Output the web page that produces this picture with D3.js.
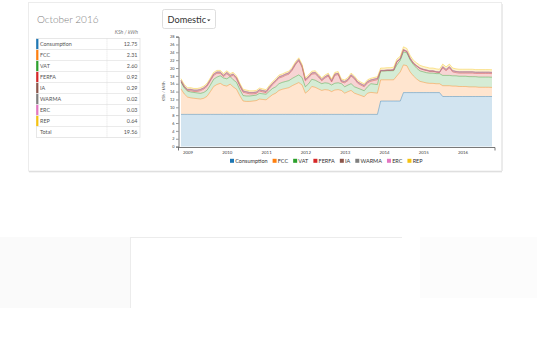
<!DOCTYPE html>
<html><head><meta charset="utf-8">
<script src="https://cdn.jsdelivr.net/npm/d3@7"></script>
<style>
html,body{margin:0;padding:0;background:#fff;}
svg{display:block;font-family:Lato,"Open Sans",sans-serif;}
</style></head><body>
<svg id="c" width="537" height="360"></svg>
<script>
// ---------------- data ----------------
const titleText = "October 2016";
const tariffLabel = "Domestic";
const unitLabel = "KSh / kWh";
const seriesNames = ["Consumption","FCC","VAT","FERFA","IA","WARMA","ERC","REP"];
const seriesColors = ["#1f77b4","#ff7f0e","#2ca02c","#d62728","#8c564b","#7f7f7f","#e377c2","#f5c211"];
const yearTicks = [2009,2010,2011,2012,2013,2014,2015,2016];
const yTicks = [0,2,4,6,8,10,12,14,16,18,20,22,24,26,28];
const firstMonth = [2008,10]; // Nov 2008 (month index 0-based)
const lastMonth = [2016,9];   // Oct 2016

const consumption = [
8.2,8.2,8.2,8.2,8.2,8.2,8.2,8.2,8.2,8.2,
8.2,8.2,8.2,8.2,8.2,8.2,8.2,8.2,8.2,8.2,
8.2,8.2,8.2,8.2,8.2,8.2,8.2,8.2,8.2,8.2,
8.2,8.2,8.2,8.2,8.2,8.2,8.2,8.2,8.2,8.2,
8.2,8.2,8.2,8.2,8.2,8.2,8.2,8.2,8.2,8.2,
8.2,8.2,8.2,8.2,8.2,8.2,8.2,8.2,8.2,8.2,8.2,
11.6,11.6,11.6,11.6,11.6,11.6,11.6,
13.75,13.75,13.75,13.75,13.75,13.75,13.75,13.75,13.75,13.75,13.75,13.75,
12.75,12.75,12.75,12.75,12.75,12.75,12.75,12.75,12.75,12.75,12.75,12.75,12.75,12.75,12.75,12.75];
const fcc = [
6.5,5.2,4.4,4.2,4.1,4.0,3.9,4.1,4.6,5.8,
7.1,7.6,7.9,7.4,7.2,7.7,7.0,6.4,4.8,3.4,
3.3,3.3,3.4,3.5,3.9,3.8,3.7,4.4,5.0,5.4,
6.1,6.4,6.6,6.8,7.3,7.7,8.1,7.5,5.4,6.1,
7.1,6.9,6.5,6.1,6.3,6.2,5.8,6.2,6.3,6.1,
5.4,5.8,6.1,5.4,5.1,4.8,4.5,5.4,5.6,5.5,5.4,
5.4,5.4,5.4,5.4,5.4,6.4,7.4,
7.05,6.85,5.25,4.25,3.45,2.85,2.65,2.45,2.35,2.35,2.25,2.25,
2.75,2.75,2.75,2.65,2.65,2.55,2.55,2.55,2.45,2.45,2.45,2.35,2.35,2.35,2.35,2.31];
const vat = [
1.76,1.61,1.51,1.49,1.48,1.46,1.45,1.48,1.54,1.68,
1.84,1.90,1.93,1.87,1.85,1.91,1.82,1.75,1.56,1.39,
1.38,1.38,1.39,1.40,1.45,1.44,1.43,1.51,1.58,1.63,
1.72,1.75,1.78,1.80,1.86,1.91,1.96,1.88,1.63,1.72,
1.84,1.81,1.76,1.72,1.74,1.73,1.68,1.73,1.74,1.72,
1.63,1.68,1.72,1.63,1.60,1.56,1.52,1.63,2.21,2.19,2.18,
2.27,2.27,2.30,2.30,2.32,2.80,2.95,
3.30,3.28,3.03,2.88,2.76,2.67,2.64,2.61,2.60,2.60,2.58,2.58,
2.62,2.62,2.62,2.62,2.62,2.61,2.61,2.61,2.61,2.61,2.60,2.60,2.60,2.60,2.60,2.60];
const ferfa = [
0.08,0.05,0.13,0.35,0.26,0.38,0.69,0.86,1.00,1.06,
1.00,0.94,0.61,0.37,1.29,0.03,1.12,0.89,0.88,0.85,
0.76,0.56,0.45,0.44,0.59,0.50,0.41,0.73,0.96,1.31,
1.42,1.39,1.56,1.64,2.08,3.03,3.58,2.66,1.51,1.52,
1.30,1.63,1.28,0.72,1.20,1.81,0.76,2.01,2.10,0.42,
1.01,1.16,1.92,2.01,1.24,1.08,1.02,1.01,0.63,0.95,1.26,
0.00,0.00,0.07,0.07,0.15,0.77,0.32,
0.46,0.28,0.33,0.28,0.50,0.59,0.52,0.55,0.46,0.46,0.38,0.28,
1.90,1.20,1.90,1.00,0.80,0.81,0.81,0.81,0.91,0.91,0.82,0.92,0.92,0.92,0.92,0.92];
const ia = [
0.30,0.30,0.30,0.30,0.30,0.30,0.30,0.30,0.30,0.30,
0.30,0.30,0.30,0.30,0.30,0.30,0.30,0.30,0.30,0.30,
0.30,0.30,0.30,0.30,0.30,0.30,0.30,0.30,0.30,0.30,
0.30,0.30,0.30,0.30,0.30,0.30,0.30,0.30,0.30,0.30,
0.30,0.30,0.30,0.30,0.30,0.30,0.30,0.30,0.30,0.30,
0.30,0.30,0.30,0.30,0.30,0.30,0.30,0.30,0.30,0.30,0.30,
0.10,0.10,0.10,0.10,0.10,0.10,0.10,
0.10,0.10,0.10,0.10,0.10,0.10,0.10,0.10,0.10,0.10,0.10,0.10,
0.29,0.29,0.29,0.29,0.29,0.29,0.29,0.29,0.29,0.29,0.29,0.29,0.29,0.29,0.29,0.29];
const warma = [
0.02,0.02,0.02,0.02,0.02,0.02,0.02,0.02,0.02,0.02,
0.02,0.02,0.02,0.02,0.02,0.02,0.02,0.02,0.02,0.02,
0.02,0.02,0.02,0.02,0.02,0.02,0.02,0.02,0.02,0.02,
0.02,0.02,0.02,0.02,0.02,0.02,0.02,0.02,0.02,0.02,
0.02,0.02,0.02,0.02,0.02,0.02,0.02,0.02,0.02,0.02,
0.02,0.02,0.02,0.02,0.02,0.02,0.02,0.02,0.02,0.02,0.02,
0.02,0.02,0.02,0.02,0.02,0.02,0.02,
0.02,0.02,0.02,0.02,0.02,0.02,0.02,0.02,0.02,0.02,0.02,0.02,
0.02,0.02,0.02,0.02,0.02,0.02,0.02,0.02,0.02,0.02,0.02,0.02,0.02,0.02,0.02,0.02];
const erc = [
0.03,0.03,0.03,0.03,0.03,0.03,0.03,0.03,0.03,0.03,
0.03,0.03,0.03,0.03,0.03,0.03,0.03,0.03,0.03,0.03,
0.03,0.03,0.03,0.03,0.03,0.03,0.03,0.03,0.03,0.03,
0.03,0.03,0.03,0.03,0.03,0.03,0.03,0.03,0.03,0.03,
0.03,0.03,0.03,0.03,0.03,0.03,0.03,0.03,0.03,0.03,
0.03,0.03,0.03,0.03,0.03,0.03,0.03,0.03,0.03,0.03,0.03,
0.03,0.03,0.03,0.03,0.03,0.03,0.03,
0.03,0.03,0.03,0.03,0.03,0.03,0.03,0.03,0.03,0.03,0.03,0.03,
0.03,0.03,0.03,0.03,0.03,0.03,0.03,0.03,0.03,0.03,0.03,0.03,0.03,0.03,0.03,0.03];
const rep = [
0.41,0.41,0.41,0.41,0.41,0.41,0.41,0.41,0.41,0.41,
0.41,0.41,0.41,0.41,0.41,0.41,0.41,0.41,0.41,0.41,
0.41,0.41,0.41,0.41,0.41,0.41,0.41,0.41,0.41,0.41,
0.41,0.41,0.41,0.41,0.41,0.41,0.41,0.41,0.41,0.41,
0.41,0.41,0.41,0.41,0.41,0.41,0.41,0.41,0.41,0.41,
0.41,0.41,0.41,0.41,0.41,0.41,0.41,0.41,0.41,0.41,0.41,
0.58,0.58,0.58,0.58,0.58,0.58,0.58,
0.69,0.69,0.69,0.69,0.69,0.69,0.69,0.69,0.69,0.69,0.69,0.69,
0.64,0.64,0.64,0.64,0.64,0.64,0.64,0.64,0.64,0.64,0.64,0.64,0.64,0.64,0.64,0.64];

// ---------------- build ----------------
const seriesValues = [consumption,fcc,vat,ferfa,ia,warma,erc,rep];
const months = d3.timeMonth.range(new Date(firstMonth[0],firstMonth[1],1), new Date(lastMonth[0],lastMonth[1]+1,1));
const rows = months.map((d,i)=>{
  const r = {date:d};
  seriesNames.forEach((k,j)=>{ r[k] = seriesValues[j][i]; });
  return r;
});
const color = d3.scaleOrdinal().domain(seriesNames).range(seriesColors);

const svg = d3.select("#c");

// faint page elements below the card
svg.append("rect").attr("x",0).attr("y",237).attr("width",130).attr("height",71).attr("fill","#fafafa");
svg.append("rect").attr("x",420).attr("y",237).attr("width",117).attr("height",61).attr("fill","#fcfcfc");
svg.append("line").attr("x1",130).attr("x2",402).attr("y1",237.5).attr("y2",237.5).attr("stroke","#ececec");
svg.append("line").attr("x1",130.5).attr("x2",130.5).attr("y1",237).attr("y2",308).attr("stroke","#ececec");

// card
svg.append("line").attr("x1",29).attr("x2",502).attr("y1",171.5).attr("y2",171.5).attr("stroke","#d2d2d2").attr("stroke-width",1.5);
svg.append("line").attr("x1",502).attr("x2",502).attr("y1",4).attr("y2",171).attr("stroke","#dedede").attr("stroke-width",1.2);
svg.append("rect").attr("x",28.5).attr("y",2.5).attr("width",473).attr("height",168.5)
  .attr("fill","#fff").attr("stroke","#ececec");

// title
svg.append("text").attr("x",37).attr("y",23).attr("font-size",10).attr("font-weight",300)
  .attr("fill","#808080").text(titleText);

// table
const tX0 = 36.5, tX1 = 140, tDiv = 107, tTop = 38.5, rowH = 11;
svg.append("text").attr("x",138).attr("y",34).attr("text-anchor","end").attr("font-size",5.2)
  .attr("font-style","italic").attr("fill","#777").text(unitLabel);
const lastIdx = months.length-1;
const tableRows = seriesNames.map((k,j)=>({name:k, value:seriesValues[j][lastIdx], color:seriesColors[j]}));
const totalVal = d3.sum(tableRows, d=>d.value);
tableRows.push({name:"Total", value: totalVal, color:null});
const tg = svg.append("g");
tg.append("rect").attr("x",tX0).attr("y",tTop).attr("width",tX1-tX0).attr("height",rowH*tableRows.length)
  .attr("fill","#fff").attr("stroke","#e2e2e2").attr("stroke-width",0.8);
tableRows.forEach((r,i)=>{
  const yy = tTop + i*rowH;
  if(i>0) tg.append("line").attr("x1",tX0).attr("x2",tX1).attr("y1",yy).attr("y2",yy).attr("stroke","#e2e2e2").attr("stroke-width",0.7);
  if(r.color) tg.append("rect").attr("x",tX0-0.3).attr("y",yy+0.4).attr("width",2.2).attr("height",rowH-0.8).attr("fill",r.color);
  tg.append("text").attr("x",40).attr("y",yy+7.3).attr("font-size",5.4).attr("fill","#555").text(r.name);
  tg.append("text").attr("x",137.5).attr("y",yy+7.3).attr("font-size",5.4).attr("fill","#555").attr("text-anchor","end").text(r.value.toFixed(2));
});
tg.append("line").attr("x1",tDiv).attr("x2",tDiv).attr("y1",tTop).attr("y2",tTop+rowH*tableRows.length)
  .attr("stroke","#dcdcdc").attr("stroke-width",0.7).attr("stroke-dasharray","1.2,0.8");

// dropdown
const dd = svg.append("g");
dd.append("rect").attr("x",162.5).attr("y",9.5).attr("width",53).attr("height",19).attr("rx",2)
  .attr("fill","#fff").attr("stroke","#d6d6d6").attr("stroke-width",0.8);
const ddt = dd.append("text").attr("x",167.5).attr("y",22.8).attr("font-size",9.2).attr("fill","#333").text(tariffLabel);
const cx = 167.5 + ddt.node().getComputedTextLength() + 1;
dd.append("path").attr("d",`M${cx},19.4 L${cx+3.4},19.4 L${cx+1.7},21.2 Z`).attr("fill","#333");

// chart scales
const x = d3.scaleTime().domain([months[0], months[lastIdx]]).range([181, 492]);
const y = d3.scaleLinear().domain([0, 28]).range([146.6, 36.6]);

const stacked = d3.stack().keys(seriesNames)(rows);
const area = d3.area().x(d=>x(d.data.date)).y0(d=>y(d[0])).y1(d=>y(d[1]));
const topLine = d3.line().x(d=>x(d.data.date)).y(d=>y(d[1]));

const cg = svg.append("g");
cg.selectAll("path.area").data(stacked).join("path").attr("class","area")
  .attr("d",area).attr("fill",d=>color(d.key)).attr("fill-opacity",0.2).attr("stroke","none");
cg.selectAll("path.top").data(stacked).join("path").attr("class","top")
  .attr("d",topLine).attr("fill","none").attr("stroke",d=>color(d.key))
  .attr("stroke-opacity",0.45).attr("stroke-width",0.9);

// y axis
const ya = svg.append("g").attr("transform","translate(178.5,0)")
  .call(d3.axisLeft(y).tickValues(yTicks).tickSize(2.5).tickPadding(1.5));
ya.selectAll("text").attr("font-size",3.9).attr("fill","#444").attr("font-family","Lato, sans-serif");
ya.selectAll("line").attr("stroke","#555").attr("stroke-width",0.6);
ya.select(".domain").attr("stroke","#555").attr("stroke-width",0.8);
svg.append("text").attr("transform","translate(165,91.5) rotate(-90)").attr("text-anchor","middle")
  .attr("font-size",4.2).attr("fill","#444").text(unitLabel);

// x axis
const xa = svg.append("g").attr("transform","translate(0,147.5)")
  .call(d3.axisBottom(x).tickValues(yearTicks.map(v=>new Date(v,0,1))).tickSize(0).tickPadding(3.5).tickFormat(d3.timeFormat("%Y")));
xa.select(".domain").remove();
xa.selectAll("text").attr("font-size",4.4).attr("fill","#444").attr("font-family","Lato, sans-serif");
svg.append("path").attr("d","M178.5,150.5V147.5H495V150.5").attr("fill","none").attr("stroke","#555").attr("stroke-width",0.8);

// legend
const lg = svg.append("g");
let lx = 230;
seriesNames.forEach((k,j)=>{
  lg.append("rect").attr("x",lx).attr("y",158.8).attr("width",4).attr("height",4).attr("fill",seriesColors[j]);
  const t = lg.append("text").attr("x",lx+5.2).attr("y",162.7).attr("font-size",5.5).attr("fill","#333").text(k);
  lx += 5.2 + t.node().getComputedTextLength() + 5;
});
</script>
</body></html>
